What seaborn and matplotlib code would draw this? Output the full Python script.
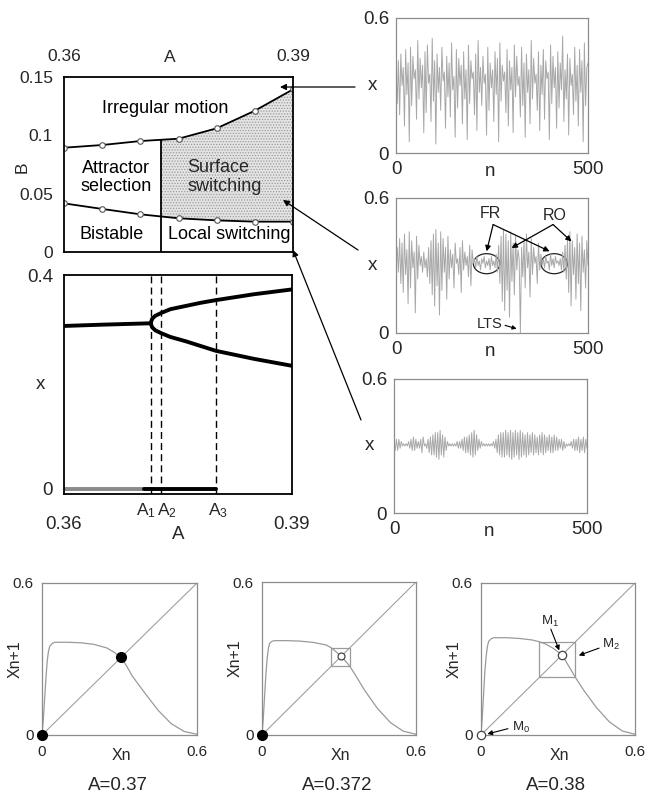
import numpy as np
import pandas as pd
import seaborn as sns
import matplotlib
matplotlib.use("Agg")
import matplotlib.pyplot as plt
from matplotlib.patches import Ellipse, Rectangle, FancyArrowPatch

# ---------------- data ----------------
# phase diagram (A, B)
A_pts = [0.36, 0.365, 0.37, 0.375, 0.38, 0.385, 0.39]
B_upper = [0.0894, 0.0917, 0.0951, 0.0971, 0.106, 0.1211, 0.1394]
B_lower = [0.0417, 0.0369, 0.0323, 0.0289, 0.0271, 0.026, 0.026]
A_div = 0.3727
B_div_top = 0.0962
phase_ticks_A = [0.36, 0.39]
phase_ticks_B = [0, 0.05, 0.1, 0.15]
phase_ticklabels_B = ["0", "0.05", "0.1", "0.15"]

# bifurcation diagram
bif_left_A = [0.36, 0.365, 0.3714]
bif_left_x = [0.3046, 0.307, 0.3096]
bif_A = [0.3714, 0.3716, 0.372, 0.3728, 0.374, 0.376, 0.378, 0.38, 0.385, 0.39]
bif_up = [0.3096, 0.318, 0.3235, 0.329, 0.336, 0.342, 0.348, 0.353, 0.364, 0.373]
bif_lo = [0.3096, 0.302, 0.2965, 0.291, 0.284, 0.276, 0.267, 0.258, 0.243, 0.230]
zero_gray_A = [0.36, 0.3705]
zero_black_A = [0.3705, 0.38]
A_marks = [0.3714, 0.3728, 0.38]
A_mark_labels = [r"$\mathregular{A_1}$", r"$\mathregular{A_2}$", r"$\mathregular{A_3}$"]

# time series (x vs n, 0..500)
ts1 = [0.36,0.22,0.41,0.17,0.44,0.30,0.38,0.12,0.46,0.26,0.40,0.05,0.47,0.21,0.43,0.33,0.37,0.15,0.50,0.24,
       0.42,0.29,0.39,0.09,0.45,0.18,0.48,0.31,0.35,0.14,0.51,0.23,0.41,0.04,0.44,0.27,0.38,0.19,0.47,0.32,
       0.36,0.11,0.43,0.25,0.40,0.16,0.49,0.28,0.34,0.07,0.46,0.20,0.42,0.30,0.39,0.13,0.45,0.24,0.37,0.06,
       0.48,0.22,0.41,0.33,0.36,0.17,0.44,0.10,0.50,0.27,0.38,0.21,0.43,0.31,0.35,0.08,0.47,0.19,0.40,0.29,
       0.37,0.14,0.45,0.26,0.42,0.05,0.49,0.23,0.39,0.32,0.36,0.18,0.46,0.12,0.41,0.28,0.38,0.09,0.48,0.25,
       0.43,0.30,0.34,0.16,0.47,0.21,0.40,0.07,0.44,0.27,0.37,0.13,0.50,0.24,0.42,0.31,0.35,0.19,0.45,0.10,
       0.39,0.26,0.46,0.15,0.41,0.33,0.36,0.06,0.48,0.22,0.43,0.29,0.38,0.11,0.45,0.20,0.40,0.28,0.52,0.14,
       0.37,0.24,0.44,0.08,0.42,0.30,0.35,0.17,0.47,0.23,0.39,0.12,0.46,0.27,0.41,0.05,0.49,0.21,0.38,0.40]
ts2 = [0.32,0.38,0.27,0.42,0.22,0.40,0.18,0.44,0.26,0.37,0.13,0.45,0.20,0.41,0.29,0.36,0.09,0.43,0.24,0.39,
       0.30,0.34,0.27,0.36,0.29,0.33,0.25,0.38,0.22,0.41,0.17,0.44,0.12,0.46,0.21,0.40,0.08,0.45,0.19,0.42,
       0.27,0.38,0.15,0.43,0.24,0.37,0.29,0.35,0.20,0.40,0.31,0.33,0.26,0.38,0.18,0.41,0.28,0.36,0.30,0.34,
       0.25,0.39,0.21,0.37,0.31,0.33,0.29,0.34,0.30,0.32,0.28,0.33,0.31,0.34,0.29,0.32,0.30,0.33,0.28,0.34,
       0.30,0.32,0.29,0.35,0.27,0.39,0.22,0.43,0.14,0.46,0.10,0.44,0.19,0.41,0.07,0.45,0.23,0.40,0.17,0.43,
       0.28,0.37,0.33,0.00,0.38,0.25,0.41,0.20,0.44,0.29,0.36,0.16,0.42,0.26,0.38,0.31,0.34,0.22,0.40,0.28,
       0.35,0.30,0.33,0.29,0.34,0.31,0.32,0.28,0.35,0.30,0.33,0.29,0.34,0.31,0.32,0.30,0.33,0.28,0.36,0.27,
       0.39,0.24,0.42,0.18,0.45,0.12,0.41,0.26,0.38,0.15,0.44,0.22,0.40,0.10,0.43,0.27,0.37,0.20,0.41,0.30]
ts3 = [0.31,0.28,0.33,0.28,0.33,0.29,0.32,0.30,0.31,0.30,0.31,0.30,0.32,0.29,0.33,0.28,0.34,0.28,0.33,0.29,
       0.32,0.29,0.33,0.27,0.34,0.30,0.31,0.29,0.33,0.27,0.34,0.26,0.35,0.26,0.36,0.25,0.36,0.24,0.37,0.26,
       0.35,0.25,0.34,0.28,0.32,0.30,0.31,0.30,0.31,0.30,0.31,0.30,0.32,0.29,0.32,0.29,0.33,0.28,0.34,0.27,
       0.34,0.27,0.35,0.26,0.36,0.25,0.37,0.26,0.35,0.28,0.33,0.29,0.32,0.30,0.31,0.30,0.31,0.30,0.31,0.30,
       0.31,0.30,0.32,0.29,0.33,0.27,0.35,0.26,0.36,0.25,0.36,0.25,0.37,0.26,0.36,0.25,0.37,0.24,0.36,0.25,
       0.37,0.26,0.36,0.24,0.37,0.25,0.36,0.26,0.35,0.25,0.36,0.26,0.35,0.27,0.36,0.26,0.35,0.27,0.34,0.26,
       0.35,0.27,0.36,0.26,0.35,0.27,0.34,0.28,0.35,0.27,0.34,0.27,0.35,0.28,0.34,0.28,0.33,0.29,0.33,0.28,
       0.32,0.29,0.31,0.30,0.31,0.30,0.32,0.29,0.33,0.28,0.33,0.28,0.34,0.27,0.33,0.28,0.34,0.27,0.33,0.29]
n_max = 500

# return maps
mapx_A = [0, 0.005, 0.01, 0.015, 0.02, 0.025, 0.03, 0.04, 0.05, 0.1, 0.15, 0.2, 0.25, 0.28, 0.306, 0.33, 0.35, 0.4, 0.45, 0.5, 0.55, 0.6]
mapy_A = [0, 0.06, 0.14, 0.22, 0.29, 0.33, 0.35, 0.362, 0.366, 0.366, 0.364, 0.358, 0.344, 0.326, 0.306, 0.268, 0.232, 0.163, 0.097, 0.045, 0.014, 0.003]
mapx_B = [0, 0.005, 0.01, 0.015, 0.02, 0.025, 0.03, 0.04, 0.05, 0.1, 0.15, 0.2, 0.25, 0.27, 0.29, 0.308, 0.325, 0.342, 0.37, 0.4, 0.45, 0.5, 0.55, 0.6]
mapy_B = [0, 0.065, 0.15, 0.235, 0.30, 0.34, 0.36, 0.368, 0.370, 0.370, 0.368, 0.363, 0.353, 0.342, 0.325, 0.308, 0.29, 0.27, 0.225, 0.175, 0.104, 0.049, 0.015, 0.003]
mapx_C = [0, 0.005, 0.01, 0.015, 0.02, 0.025, 0.03, 0.04, 0.05, 0.1, 0.15, 0.2, 0.227, 0.25, 0.28, 0.3, 0.315, 0.33, 0.35, 0.368, 0.4, 0.45, 0.5, 0.55, 0.6]
mapy_C = [0, 0.07, 0.16, 0.25, 0.31, 0.35, 0.37, 0.38, 0.384, 0.384, 0.381, 0.375, 0.368, 0.36, 0.343, 0.328, 0.315, 0.292, 0.258, 0.227, 0.177, 0.108, 0.052, 0.016, 0.003]
fixed_A = 0.306
fixed_B = 0.308
fixed_C = 0.315
cycle_B = [0.27, 0.342]
cycle_C = [0.227, 0.368]
map_titles = ["A=0.37", "A=0.372", "A=0.38"]

# ---------------- style ----------------
sns.set_theme(style="white")
plt.rcParams["font.family"] = ["Liberation Sans", "DejaVu Sans"]
plt.rcParams["mathtext.fontset"] = "custom"
plt.rcParams["mathtext.rm"] = "Liberation Sans"
plt.rcParams["mathtext.it"] = "Liberation Sans:italic"
plt.rcParams["hatch.linewidth"] = 0.6

W, H = 670, 794
fig = plt.figure(figsize=(W / 100, H / 100), dpi=100)
fig.patch.set_facecolor("white")


def add_ax(x0, y0, x1, y1):
    return fig.add_axes([x0 / W, 1 - y1 / H, (x1 - x0) / W, (y1 - y0) / H])


def box(ax, color, lw):
    for s in ax.spines.values():
        s.set_visible(True)
        s.set_color(color)
        s.set_linewidth(lw)
    ax.grid(False)
    ax.set_facecolor("white")


def line(ax, x, y, **kw):
    sns.lineplot(x=x, y=y, ax=ax, sort=False, estimator=None, **kw)


# ---------------- phase diagram ----------------
ax = add_ax(64, 77, 293, 252)
box(ax, "black", 1.3)
fill = ax.fill_between(A_pts, B_lower, B_upper, facecolor="#e4e4e4",
                       hatch="......", edgecolor="#9a9a9a", linewidth=0)
fill.set_clip_path(Rectangle((A_div, 0), 0.39 - A_div, 0.15, transform=ax.transData))
for yy in (B_upper, B_lower):
    line(ax, A_pts, yy, color="black", lw=1.3, marker="o", ms=4,
         mfc="white", mec="#555555", mew=0.8)
ax.vlines(A_div, 0, B_div_top, color="black", lw=1.3)
ax.set_xlim(0.36, 0.39)
ax.set_ylim(0, 0.15)
ax.xaxis.tick_top()
ax.set_xticks(phase_ticks_A)
ax.set_xticklabels(["0.36", "0.39"])
ax.set_yticks(phase_ticks_B)
ax.set_yticklabels(phase_ticklabels_B)
ax.tick_params(length=0, labelsize=12.5)
ax.tick_params(axis="x", pad=9)
ax.tick_params(axis="y", pad=8)
ax.xaxis.set_label_position("top")
ax.set_xlabel("A", fontsize=12.5, va="center")
ax.xaxis.set_label_coords(0.463, 1.114)
ax.set_ylabel("B", fontsize=12.5, va="center")
ax.yaxis.set_label_coords(-0.183, 0.486)
tk = dict(fontsize=13, color="black", ha="center", va="center")
ax.text(0.3732, 0.1234, "Irregular motion", **tk)
ax.text(0.3668, 0.0639, "Attractor\nselection", linespacing=1.1, **tk)
ax.text(0.3762, 0.0643, "Surface\nswitching", fontsize=13, ha="left", va="center", linespacing=1.1)
ax.text(0.3663, 0.0154, "Bistable", **tk)
ax.text(0.3816, 0.0154, "Local switching", **tk)

# ---------------- bifurcation diagram ----------------
ax = add_ax(64, 275, 292, 494)
box(ax, "black", 1.3)
lwb = 2.8
line(ax, bif_left_A, bif_left_x, color="black", lw=lwb)
line(ax, bif_A, bif_up, color="black", lw=lwb)
line(ax, bif_A, bif_lo, color="black", lw=lwb)
line(ax, zero_gray_A, [0, 0], color="#8a8a8a", lw=lwb)
line(ax, zero_black_A, [0, 0], color="black", lw=lwb)
for a in A_marks:
    ax.axvline(a, color="black", lw=1.0, ls=(0, (5, 3)))
ax.set_xlim(0.36, 0.39)
ax.set_ylim(-0.01, 0.4)
ax.set_xticks([0.36, 0.39])
ax.set_xticklabels(["0.36", "0.39"])
ax.set_yticks([0, 0.4])
ax.set_yticklabels(["0", "0.4"])
ax.tick_params(length=0, labelsize=13.5)
ax.tick_params(axis="x", pad=16)
ax.tick_params(axis="y", pad=8)
for a, lab, dx in zip(A_marks, A_mark_labels, [-0.0006, 0.0008, 0.0002]):
    ax.text(a + dx, -0.078, lab, transform=ax.get_xaxis_transform(), fontsize=12.5,
            ha="center", va="center")
ax.set_xlabel("A", fontsize=13.5, va="center")
ax.xaxis.set_label_coords(0.5, -0.187)
ax.set_ylabel("x", fontsize=13.5, rotation=0, va="center", ha="center")
ax.yaxis.set_label_coords(-0.105, 0.5)

# ---------------- time series ----------------
ts_boxes = [(396, 18, 588, 153), (396, 198, 588, 333), (394, 379, 587, 513)]
ts_list = [ts1, ts2, ts3]
ts_axes = []
for (x0, y0, x1, y1), ts in zip(ts_boxes, ts_list):
    ax = add_ax(x0, y0, x1, y1)
    box(ax, "#8c8c8c", 0.9)
    n = np.arange(len(ts)) * n_max / (len(ts) - 1)
    line(ax, n, ts, color="#a8a8a8", lw=0.7)
    ax.set_xlim(0, n_max)
    ax.set_ylim(0, 0.6)
    ax.set_xticks([0, n_max])
    ax.set_xticklabels(["0", "500"])
    ax.set_yticks([0, 0.6])
    ax.set_yticklabels(["0", "0.6"])
    ax.tick_params(length=0, labelsize=13.5)
    ax.tick_params(axis="x", pad=6)
    ax.tick_params(axis="y", pad=5)
    ax.set_xlabel("n", fontsize=13.5, va="center")
    ax.xaxis.set_label_coords(0.49, -0.14)
    ax.set_ylabel("x", fontsize=13.5, rotation=0, va="center", ha="center")
    ax.yaxis.set_label_coords(-0.125, 0.5)
    ts_axes.append(ax)

ax = ts_axes[1]
for cx in (236, 412):
    ax.add_patch(Ellipse((cx, 0.308), 69, 0.089, fill=False, edgecolor="#222222", lw=0.9))
ap = dict(arrowstyle="-|>", color="black", lw=0.9, mutation_scale=8, shrinkA=0, shrinkB=0)
ax.text(246, 0.533, "FR", fontsize=11.5, ha="center", va="center")
ax.text(413, 0.522, "RO", fontsize=11.5, ha="center", va="center")
ax.annotate("", xy=(236, 0.363), xytext=(253, 0.482), arrowprops=ap)
ax.annotate("", xy=(400, 0.363), xytext=(253, 0.482), arrowprops=ap)
ax.annotate("", xy=(301, 0.378), xytext=(409, 0.482), arrowprops=ap)
ax.annotate("", xy=(457, 0.407), xytext=(409, 0.482), arrowprops=ap)
ax.text(245, 0.041, "LTS", fontsize=10.5, ha="center", va="center")
ax.annotate("", xy=(314, 0.019), xytext=(284, 0.034),
            arrowprops=dict(arrowstyle="-|>", color="black", lw=0.8, mutation_scale=6,
                            shrinkA=0, shrinkB=0))

# ---------------- return maps ----------------
rm_boxes = [(42, 583, 197, 735), (262, 582, 416, 735), (481, 583, 635, 735)]
rm_x = [mapx_A, mapx_B, mapx_C]
rm_y = [mapy_A, mapy_B, mapy_C]
rm_axes = []
for (x0, y0, x1, y1), mx, my, title in zip(rm_boxes, rm_x, rm_y, map_titles):
    ax = add_ax(x0, y0, x1, y1)
    box(ax, "#8c8c8c", 0.9)
    line(ax, [0, 0.6], [0, 0.6], color="#a0a0a0", lw=0.8)
    line(ax, mx, my, color="#9a9a9a", lw=0.9)
    ax.set_xlim(0, 0.6)
    ax.set_ylim(0, 0.6)
    ax.set_xticks([0, 0.6])
    ax.set_xticklabels(["0", "0.6"])
    ax.set_yticks([0, 0.6])
    ax.set_yticklabels(["0", "0.6"])
    ax.tick_params(length=0, labelsize=11)
    ax.tick_params(axis="x", pad=7)
    ax.tick_params(axis="y", pad=6)
    ax.set_xlabel("Xn", fontsize=11.5, va="center")
    ax.xaxis.set_label_coords(0.51, -0.135)
    ax.set_ylabel("Xn+1", fontsize=11.5, va="center")
    ax.yaxis.set_label_coords(-0.175, 0.5)
    ax.text(0.49, -0.33, title, transform=ax.transAxes, fontsize=13.5,
            ha="center", va="center")
    rm_axes.append(ax)

# cobweb squares (period-2 orbits)
for ax, cyc in ((rm_axes[1], cycle_B), (rm_axes[2], cycle_C)):
    p, q = cyc
    line(ax, [p, q, q, p, p], [p, p, q, q, p], color="#9a9a9a", lw=0.9)

# fixed points
rm_axes[0].plot([fixed_A], [fixed_A], "o", color="black", ms=7, zorder=5)
rm_axes[0].plot([0], [0], "o", color="black", ms=7, zorder=5, clip_on=False)
rm_axes[1].plot([fixed_B], [fixed_B], "o", mfc="white", mec="#444444", mew=0.9, ms=5, zorder=5)
rm_axes[1].plot([0], [0], "o", color="black", ms=7, zorder=5, clip_on=False)
rm_axes[2].plot([fixed_C], [fixed_C], "o", mfc="white", mec="#444444", mew=0.9, ms=6, zorder=5)
rm_axes[2].plot([0], [0], "o", mfc="white", mec="#444444", mew=0.9, ms=6, zorder=5, clip_on=False)

ax = rm_axes[2]
apm = dict(arrowstyle="-|>", color="black", lw=0.8, mutation_scale=7, shrinkA=0, shrinkB=0)
ax.text(0.27, 0.447, r"$\mathregular{M_1}$", fontsize=9.5, ha="center", va="center")
ax.annotate("", xy=(0.305, 0.334), xytext=(0.272, 0.418), arrowprops=apm)
ax.text(0.47, 0.356, r"$\mathregular{M_2}$", fontsize=9.5, ha="left", va="center")
ax.annotate("", xy=(0.381, 0.314), xytext=(0.46, 0.343), arrowprops=apm)
ax.text(0.12, 0.03, r"$\mathregular{M_0}$", fontsize=9.5, ha="left", va="center")
ax.annotate("", xy=(0.025, 0.004), xytext=(0.105, 0.025), arrowprops=apm)

# ---------------- connectors between panels ----------------
def fpt(px, py):
    return (px / W, 1 - py / H)


for (sx, sy), (ex, ey) in [((355, 87), (280, 87)), ((358, 250), (283, 200)), ((361, 420), (293, 250))]:
    fig.add_artist(FancyArrowPatch(fpt(sx, sy), fpt(ex, ey), transform=fig.transFigure,
                                   arrowstyle="-|>", mutation_scale=9, color="black",
                                   lw=0.9, shrinkA=0, shrinkB=0))

fig.savefig("out.png", dpi=100, facecolor="white")
